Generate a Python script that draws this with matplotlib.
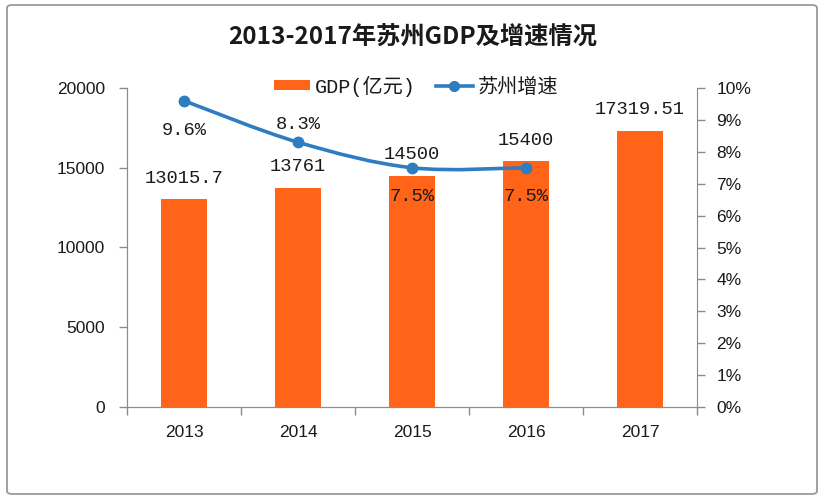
import matplotlib
matplotlib.use("Agg")
import matplotlib.pyplot as plt
import numpy as np
from matplotlib.path import Path
from matplotlib.patches import PathPatch, FancyBboxPatch

plt.rcParams['font.family'] = ['Liberation Mono', 'Noto Sans CJK SC', 'DejaVu Sans']

years = ['2013', '2014', '2015', '2016', '2017']
gdp = [13015.7, 13761, 14500, 15400, 17319.51]
gdp_labels = ['13015.7', '13761', '14500', '15400', '17319.51']
growth = [9.6, 8.3, 7.5, 7.5]
growth_labels = ['9.6%', '8.3%', '7.5%', '7.5%']
growth_offsets_px = [-30, 18, -29, -29]
left_ticks = [0, 5000, 10000, 15000, 20000]
right_ticks = list(range(0, 11))

bar_color = '#FF6418'
line_color = '#2E7DC0'
axis_color = '#8C8C8C'
text_color = '#1A1A1A'

fig = plt.figure(figsize=(8.21, 5.03), dpi=100)
ax = fig.add_axes([127/821, 1-407/503, (697-127)/821, (407-88)/503])
ax2 = ax.twinx()

x = np.arange(len(years))
ax.bar(x, gdp, width=0.4, color=bar_color, zorder=2, label='GDP(亿元)')
ax.set_xlim(-0.5, len(years)-0.5)
ax.set_ylim(0, 20000)
ax.set_yticks(left_ticks)
ax.set_yticklabels([str(t) for t in left_ticks])
ax.set_xticks(x)
ax.set_xticklabels(years)
ax.set_xticks(np.arange(-0.5, len(years)), minor=True)
ax.tick_params(axis='x', which='major', length=0, pad=13, labelsize=12.5, labelcolor=text_color)
ax.tick_params(axis='x', which='minor', length=6, width=1, color=axis_color, direction='out')
ax.tick_params(axis='y', length=6, width=1, color=axis_color, direction='out', pad=10, labelsize=12.5, labelcolor=text_color)
for lab in ax.get_xticklabels() + ax.get_yticklabels():
    lab.set_family(['Liberation Sans', 'DejaVu Sans'])

for s in ['top']:
    ax.spines[s].set_visible(False)
    ax2.spines[s].set_visible(False)
for s in ['left', 'bottom', 'right']:
    ax.spines[s].set_color(axis_color)
    ax2.spines[s].set_color(axis_color)
ax.spines['right'].set_visible(False)

ax2.set_ylim(0, 10)
ax2.set_yticks(right_ticks)
ax2.set_yticklabels([f'{t}%' for t in right_ticks])
ax2.tick_params(axis='y', length=6, width=1, color=axis_color, direction='out', pad=8, labelsize=12.5, labelcolor=text_color)
for lab in ax2.get_yticklabels():
    lab.set_family(['Liberation Sans', 'DejaVu Sans'])

# smooth line (Catmull-Rom to Bezier)
gx = x[:len(growth)].astype(float)
gy = np.array(growth, dtype=float)
pts = np.column_stack([gx, gy])
verts = [tuple(pts[0])]
codes = [Path.MOVETO]
n = len(pts)
for i in range(n-1):
    p0 = pts[i-1] if i > 0 else pts[i]
    p1 = pts[i]
    p2 = pts[i+1]
    p3 = pts[i+2] if i+2 < n else pts[i+1]
    c1 = p1 + (p2 - p0) / 6.0
    c2 = p2 - (p3 - p1) / 6.0
    verts += [tuple(c1), tuple(c2), tuple(p2)]
    codes += [Path.CURVE4]*3
ax2.add_patch(PathPatch(Path(verts, codes), fill=False, ec=line_color, lw=2.6, zorder=3))
ax2.plot(gx, gy, linestyle='none', marker='o', ms=7.5, color=line_color, zorder=4)

# legend
from matplotlib.lines import Line2D
from matplotlib.patches import Patch
handles = [Patch(facecolor=bar_color, edgecolor='none'),
           Line2D([0], [0], color=line_color, lw=2.6, marker='o', ms=7)]
leg = fig.legend(handles, ['GDP(亿元)', '苏州增速'], loc='center', ncol=2,
                 bbox_to_anchor=(416/821, 1-86/503), frameon=False,
                 fontsize=14.5, handlelength=1.8, handleheight=0.4,
                 handletextpad=0.25, columnspacing=1.0)
for t in leg.get_texts():
    t.set_color(text_color)

# bar labels
for xi, v, lab in zip(x, gdp, gdp_labels):
    ax.annotate(lab, (xi, v), xytext=(0, 21*0.72), textcoords='offset points',
                ha='center', va='center', fontsize=13.5, color=text_color, zorder=5)

# growth labels
for xi, v, lab, off in zip(gx, gy, growth_labels, growth_offsets_px):
    ax2.annotate(lab, (xi, v), xytext=(0, off*0.72), textcoords='offset points',
                 ha='center', va='center', fontsize=13.5, color=text_color, zorder=5)

# title
fig.text(413/821, 1-38/503, '2013-2017年苏州GDP及增速情况', ha='center', va='center',
         fontsize=17.5, fontweight='bold', family=['Noto Sans CJK SC', 'DejaVu Sans'],
         color=text_color)

# border
fig.patches.append(FancyBboxPatch((7/821, 1-494/503), (817-7)/821, (494-5)/503,
                                  boxstyle='round,pad=0,rounding_size=0.006',
                                  transform=fig.transFigure, fill=False,
                                  ec='#9A9A9A', lw=1.3))

fig.savefig('out.png', dpi=100)
